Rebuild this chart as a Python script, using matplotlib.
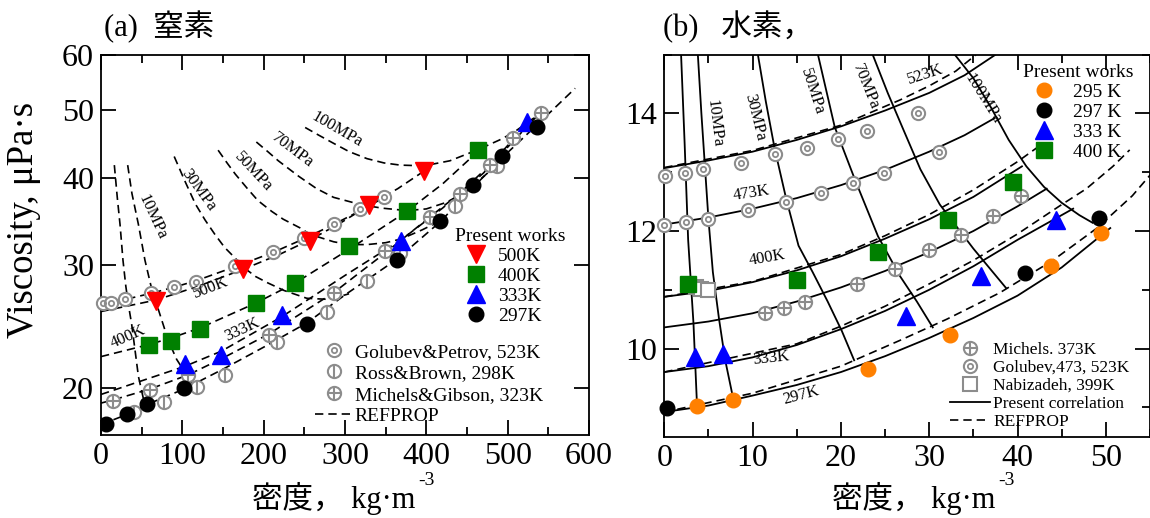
import matplotlib
matplotlib.use("Agg")
import matplotlib.pyplot as plt
from matplotlib.lines import Line2D
from matplotlib.ticker import FixedLocator, FixedFormatter, NullLocator, MultipleLocator

plt.rcParams['font.family'] = ['Liberation Serif', 'Noto Sans CJK JP']

GRAY = '#8c8c8c'
ORANGE = '#ff8000'

# ---------------- (a) nitrogen ----------------
# present works
n2_500_rho = [68, 175, 257, 329, 397]
n2_500_eta = [26.7, 29.6, 32.5, 36.6, 40.9]
n2_400_rho = [59, 86, 122, 191, 239, 305, 376, 464]
n2_400_eta = [23.1, 23.4, 24.3, 26.5, 28.3, 32.0, 35.8, 43.9]
n2_333_rho = [103, 148, 222, 369, 524]
n2_333_eta = [21.7, 22.3, 25.5, 32.5, 48.1]
n2_297_rho = [6, 32, 56, 102, 253, 364, 417, 457, 493, 536]
n2_297_eta = [17.8, 18.4, 19.0, 20.0, 24.7, 30.5, 34.7, 39.1, 42.9, 47.3]

# literature
golubev_rho = [2, 12, 30, 62, 90, 117, 165, 212, 249, 286, 319, 348]
golubev_eta = [26.5, 26.5, 26.8, 27.4, 27.9, 28.4, 29.9, 31.3, 32.8, 34.4, 36.1, 37.5]
ross_rho = [41, 78, 118, 153, 217, 278, 327, 368, 435, 487]
ross_eta = [18.5, 19.1, 20.1, 20.9, 23.3, 25.7, 28.5, 31.2, 36.5, 41.6]
michels_rho = [15, 60, 107, 206, 286, 349, 405, 441, 478, 507, 541]
michels_eta = [19.2, 19.9, 20.9, 23.8, 27.4, 31.4, 35.2, 37.9, 41.7, 45.6, 49.5]

# REFPROP isotherms
ref_n2_523_rho = [0, 30, 62, 90, 117, 165, 212, 249, 286, 319, 352]
ref_n2_523_eta = [26.4, 26.8, 27.35, 27.9, 28.5, 29.85, 31.3, 32.7, 34.3, 35.9, 37.7]
ref_n2_500_rho = [0, 68, 120, 175, 220, 257, 295, 329, 365, 400]
ref_n2_500_eta = [25.75, 26.75, 28.0, 29.6, 31.1, 32.6, 34.5, 36.5, 38.6, 41.1]
ref_n2_400_rho = [0, 59, 86, 122, 191, 239, 305, 376, 420, 466]
ref_n2_400_eta = [22.2, 23.1, 23.6, 24.4, 26.5, 28.3, 31.6, 35.8, 39.2, 43.9]
ref_n2_333_rho = [0, 50, 103, 148, 222, 300, 369, 420, 470, 530]
ref_n2_333_eta = [19.6, 20.5, 21.5, 22.6, 25.3, 29.0, 32.6, 36.2, 40.6, 48.2]
ref_n2_323_rho = [0, 15, 60, 107, 150, 206, 286, 349, 405, 441, 478, 507, 541]
ref_n2_323_eta = [19.05, 19.25, 19.95, 20.9, 22.1, 23.9, 27.4, 31.2, 35.2, 38.0, 41.7, 45.4, 49.6]
ref_n2_297_rho = [0, 32, 56, 102, 150, 200, 253, 300, 364, 417, 457, 493, 536, 583]
ref_n2_297_eta = [17.75, 18.35, 18.95, 19.95, 21.3, 22.9, 24.8, 27.2, 30.6, 34.6, 38.7, 42.7, 47.6, 53.7]
# REFPROP isobars
ref_n2_5mpa_rho = [16.4, 20, 23.4, 27, 30.5, 34, 37.7, 42, 46, 54]
ref_n2_5mpa_eta = [41.7, 37.5, 34.3, 30.5, 28.0, 26.2, 24.7, 22.6, 20.8, 18.9]
ref_n2_10mpa_rho = [32.8, 38, 46, 54, 61.5, 69.7, 82.8, 93, 103, 112]
ref_n2_10mpa_eta = [41.7, 38.0, 34.3, 30.5, 28.0, 26.1, 23.4, 22.0, 21.1, 20.25]
ref_n2_30mpa_rho = [90, 103, 116, 128, 140, 152, 165, 175, 190, 205, 225, 253, 280, 305]
ref_n2_30mpa_eta = [42.9, 39.6, 36.7, 34.8, 33.2, 31.8, 30.7, 29.8, 28.9, 28.3, 27.6, 26.9, 26.8, 27.3]
ref_n2_50mpa_rho = [144, 155, 165, 180, 193, 210, 224, 245, 257, 286, 305, 327, 350, 369, 395, 417]
ref_n2_50mpa_eta = [43.8, 42.0, 40.5, 38.6, 37.1, 35.8, 34.9, 33.9, 33.2, 32.4, 32.1, 32.1, 32.3, 32.7, 33.7, 34.7]
ref_n2_70mpa_rho = [191, 205, 218, 243, 265, 286, 320, 345, 376, 400, 425, 450, 475, 493]
ref_n2_70mpa_eta = [45.0, 43.6, 42.3, 40.2, 38.6, 37.5, 36.6, 36.2, 35.9, 36.1, 36.9, 38.3, 40.6, 42.9]
ref_n2_100mpa_rho = [251, 268, 286, 305, 327, 348, 368, 397, 429, 464, 490, 507, 530, 548]
ref_n2_100mpa_eta = [47.2, 46.0, 44.8, 43.6, 42.6, 42.0, 41.7, 41.6, 42.3, 43.9, 45.3, 46.4, 48.5, 50.0]

n2_yticks = [20, 30, 40, 50, 60]

# ---------------- (b) hydrogen ----------------
h2_295_rho = [3.7, 7.8, 23.1, 32.3, 43.8, 49.5]
h2_295_eta = [9.03, 9.12, 9.66, 10.23, 11.40, 11.97]
h2_297_rho = [0.3, 40.9, 49.2]
h2_297_eta = [8.99, 11.29, 12.22]
h2_333_rho = [3.5, 6.7, 27.4, 35.9, 44.4]
h2_333_eta = [9.85, 9.90, 10.55, 11.23, 12.19]
h2_400_rho = [2.7, 15.0, 24.2, 32.1, 39.5]
h2_400_eta = [11.09, 11.16, 11.64, 12.18, 12.84]

h2_michels_rho = [11.4, 13.6, 15.9, 21.8, 26.1, 30.0, 33.6, 37.2, 40.4]
h2_michels_eta = [10.60, 10.69, 10.79, 11.09, 11.36, 11.68, 11.94, 12.26, 12.59]
h2_golubev_rho = [0.1, 2.3, 4.4, 8.7, 12.5, 16.2, 19.7, 22.9, 28.7,
                  0.0, 2.5, 4.9, 9.5, 13.8, 17.7, 21.4, 24.9, 31.1]
h2_golubev_eta = [12.94, 12.99, 13.06, 13.15, 13.31, 13.41, 13.56, 13.70, 14.01,
                  12.11, 12.15, 12.20, 12.36, 12.50, 12.65, 12.82, 12.99, 13.35]
h2_nabi_rho = [3.6, 4.2, 4.9]
h2_nabi_eta = [11.04, 11.02, 11.00]

# present correlation isotherms
cor_523_rho = [0, 5, 10, 15, 20, 25, 30, 34, 37.5]
cor_523_eta = [13.07, 13.2, 13.35, 13.55, 13.78, 14.05, 14.35, 14.65, 15.0]
cor_473_rho = [0, 5, 10, 15, 20, 25, 30, 34, 37.4]
cor_473_eta = [12.11, 12.23, 12.38, 12.56, 12.78, 13.04, 13.35, 13.63, 13.92]
cor_400_rho = [0, 5, 10, 15, 20, 25, 30, 35, 40.5]
cor_400_eta = [10.88, 10.98, 11.13, 11.33, 11.57, 11.87, 12.2, 12.58, 13.1]
cor_373_rho = [0, 5, 10, 15, 20, 25, 30, 35, 40, 43.3]
cor_373_eta = [10.36, 10.46, 10.6, 10.8, 11.04, 11.32, 11.64, 12.0, 12.42, 12.72]
cor_333_rho = [0, 5, 10, 15, 20, 25, 30, 35, 40, 46.3]
cor_333_eta = [9.6, 9.7, 9.85, 10.06, 10.33, 10.64, 11.0, 11.4, 11.85, 12.38]
cor_297_rho = [0, 5, 10, 15, 20, 25, 30, 35, 40, 45, 50.5]
cor_297_eta = [8.92, 9.03, 9.2, 9.38, 9.6, 9.87, 10.18, 10.52, 10.9, 11.38, 12.05]
# present correlation isobars
cor_5mpa_rho = [1.9, 2.3, 2.7, 3.3, 3.7]
cor_5mpa_eta = [15.0, 13.5, 11.85, 10.44, 9.05]
cor_10mpa_rho = [3.8, 4.2, 4.6, 5.0, 5.5, 6.2, 6.9, 7.8]
cor_10mpa_eta = [15.0, 14.0, 13.1, 12.2, 11.3, 10.5, 9.8, 9.15]
cor_30mpa_rho = [10.6, 11.5, 12.5, 13.8, 15.2, 16.8, 18.5, 20.1, 21.5]
cor_30mpa_eta = [15.0, 14.2, 13.4, 12.55, 11.75, 11.3, 10.8, 10.3, 9.8]
cor_50mpa_rho = [17.4, 19.3, 21.6, 24.2, 26.7, 28.6, 30.4]
cor_50mpa_eta = [15.0, 13.77, 12.87, 11.91, 11.23, 10.8, 10.36]
cor_70mpa_rho = [23.6, 25.3, 27.0, 29.0, 31.2, 35.0, 38.7]
cor_70mpa_eta = [15.0, 14.35, 13.75, 13.05, 12.45, 11.7, 11.03]
cor_100mpa_rho = [32.9, 35, 37, 39, 41, 43, 45, 47, 48.5]
cor_100mpa_eta = [15.0, 14.6, 14.1, 13.55, 13.1, 12.75, 12.48, 12.27, 12.14]
# REFPROP (hydrogen)
ref_h2_523_rho = [0, 10, 20, 26.7, 30, 33, 35.3]
ref_h2_523_eta = [13.08, 13.37, 13.80, 14.23, 14.47, 14.72, 15.0]
ref_h2_400_rho = [0, 10, 20, 25, 30, 35, 40, 42.5]
ref_h2_400_eta = [10.88, 11.14, 11.6, 11.92, 12.28, 12.7, 13.18, 13.45]
ref_h2_333_rho = [0, 15, 20, 25, 30, 35, 40, 44.7, 47.8, 50.8, 52.7]
ref_h2_333_eta = [9.6, 10.08, 10.38, 10.72, 11.1, 11.5, 11.95, 12.42, 12.72, 13.1, 13.38]
ref_h2_297_rho = [0, 10, 20, 26.7, 32, 38, 44, 49, 53, 55]
ref_h2_297_eta = [8.92, 9.24, 9.7, 10.14, 10.5, 10.95, 11.5, 12.05, 12.6, 12.95]

DASH = dict(color='black', lw=1.2, ls=(0, (5, 3)))
SOLID = dict(color='black', lw=1.3)


def ring(ax, x, y, ms=9.5):
    a = ax.plot(x, y, 'o', ms=ms, mfc='white', mec=GRAY, mew=1.5, ls='none', clip_on=False, zorder=4)[0]
    b = ax.plot(x, y, 'o', ms=ms * 0.4, mfc='none', mec=GRAY, mew=1.3, ls='none', clip_on=False, zorder=5)[0]
    return (a, b)


def crossed(ax, x, y, inner, ms=9.5):
    a = ax.plot(x, y, 'o', ms=ms, mfc='white', mec=GRAY, mew=1.5, ls='none', clip_on=False, zorder=4)[0]
    b = ax.plot(x, y, inner, ms=ms, mec=GRAY, mew=1.5, ls='none', clip_on=False, zorder=5)[0]
    return (a, b)


def style_axes(ax):
    for s in ax.spines.values():
        s.set_linewidth(1.3)
    ax.tick_params(which='both', direction='in', top=True, right=True, width=1.3, labelsize=23)
    ax.tick_params(which='major', length=11, pad=5)
    ax.tick_params(which='minor', length=6)


fig = plt.figure(figsize=(11.5, 5.18), dpi=100)
W, H = 1150, 518

# ---------- panel (a) ----------
ax1 = fig.add_axes([101 / W, 1 - 435 / H, 488 / W, 380.4 / H])
ax1.set_yscale('log')
ax1.set_xlim(0, 600)
ax1.set_ylim(17.15, 60)
ax1.xaxis.set_major_locator(MultipleLocator(100))
ax1.xaxis.set_minor_locator(MultipleLocator(50))
ax1.yaxis.set_major_locator(FixedLocator(n2_yticks))
ax1.yaxis.set_major_formatter(FixedFormatter([str(v) for v in n2_yticks]))
ax1.yaxis.set_minor_locator(NullLocator())
style_axes(ax1)

for rx, ry in [(ref_n2_523_rho, ref_n2_523_eta), (ref_n2_500_rho, ref_n2_500_eta),
               (ref_n2_400_rho, ref_n2_400_eta), (ref_n2_333_rho, ref_n2_333_eta),
               (ref_n2_323_rho, ref_n2_323_eta), (ref_n2_297_rho, ref_n2_297_eta),
               (ref_n2_5mpa_rho, ref_n2_5mpa_eta), (ref_n2_10mpa_rho, ref_n2_10mpa_eta),
               (ref_n2_30mpa_rho, ref_n2_30mpa_eta), (ref_n2_50mpa_rho, ref_n2_50mpa_eta),
               (ref_n2_70mpa_rho, ref_n2_70mpa_eta), (ref_n2_100mpa_rho, ref_n2_100mpa_eta)]:
    ax1.plot(rx, ry, zorder=2, **DASH)

g1 = ring(ax1, golubev_rho, golubev_eta)
g2 = crossed(ax1, ross_rho, ross_eta, '|')
g3 = crossed(ax1, michels_rho, michels_eta, '+')

p500 = ax1.plot(n2_500_rho, n2_500_eta, 'v', color='red', ms=12.5, ls='none', zorder=6)[0]
p400 = ax1.plot(n2_400_rho, n2_400_eta, 's', color='green', ms=11, ls='none', zorder=6)[0]
p333 = ax1.plot(n2_333_rho, n2_333_eta, '^', color='blue', ms=12.5, ls='none', zorder=6)[0]
p297 = ax1.plot(n2_297_rho, n2_297_eta, 'o', color='black', ms=10.5, ls='none', zorder=6)[0]

lab = dict(fontsize=12, ha='center', va='center', rotation_mode='anchor', zorder=7)
ax1.text(62.7, 35.2, '10MPa', rotation=-65, **lab)
ax1.text(119.3, 38.4, '30MPa', rotation=-54, **lab)
ax1.text(186.9, 40.8, '50MPa', rotation=-47, **lab)
ax1.text(234.8, 43.8, '70MPa', rotation=-37, **lab)
ax1.text(290.2, 46.8, '100MPa', rotation=-30, **lab)
ax1.text(135.3, 27.9, '500K', rotation=21, **lab)
ax1.text(33.2, 23.7, '400K', rotation=24, **lab)
ax1.text(173.4, 24.3, '333K', rotation=25, **lab)

leg1 = ax1.legend([p500, p400, p333, p297], ['500K', '400K', '333K', '297K'],
                  title='Present works', alignment='left', loc='upper left',
                  bbox_to_anchor=(455 / W, 1 - 228 / H), bbox_transform=fig.transFigure,
                  frameon=False, fontsize=14, title_fontsize=14, borderpad=0, borderaxespad=0,
                  handlelength=2.2, handletextpad=0.0, labelspacing=0.12)
ax1.add_artist(leg1)
ref_line = Line2D([], [], **DASH)
ax1.legend([g1, g2, g3, ref_line],
           ['Golubev&Petrov, 523K', 'Ross&Brown, 298K', 'Michels&Gibson, 323K', 'REFPROP'],
           loc='upper left', bbox_to_anchor=(315 / W, 1 - 343 / H), bbox_transform=fig.transFigure,
           frameon=False, fontsize=14, borderpad=0, borderaxespad=0,
           handlelength=1.95, handletextpad=0.1, labelspacing=0.2)

# ---------- panel (b) ----------
ax2 = fig.add_axes([664.3 / W, 1 - 436.7 / H, 485.7 / W, 382 / H])
ax2.set_xlim(0, 55)
ax2.set_ylim(8.5, 15)
ax2.xaxis.set_major_locator(MultipleLocator(10))
ax2.xaxis.set_minor_locator(MultipleLocator(5))
ax2.yaxis.set_major_locator(MultipleLocator(2))
ax2.yaxis.set_minor_locator(MultipleLocator(1))
style_axes(ax2)

for cx, cy in [(cor_523_rho, cor_523_eta), (cor_473_rho, cor_473_eta), (cor_400_rho, cor_400_eta),
               (cor_373_rho, cor_373_eta), (cor_333_rho, cor_333_eta), (cor_297_rho, cor_297_eta),
               (cor_5mpa_rho, cor_5mpa_eta), (cor_10mpa_rho, cor_10mpa_eta),
               (cor_30mpa_rho, cor_30mpa_eta), (cor_50mpa_rho, cor_50mpa_eta),
               (cor_70mpa_rho, cor_70mpa_eta), (cor_100mpa_rho, cor_100mpa_eta)]:
    ax2.plot(cx, cy, zorder=2, **SOLID)
for rx, ry in [(ref_h2_523_rho, ref_h2_523_eta), (ref_h2_400_rho, ref_h2_400_eta),
               (ref_h2_333_rho, ref_h2_333_eta), (ref_h2_297_rho, ref_h2_297_eta)]:
    ax2.plot(rx, ry, zorder=2, **DASH)

m1 = crossed(ax2, h2_michels_rho, h2_michels_eta, '+')
m2 = ring(ax2, h2_golubev_rho, h2_golubev_eta)
m3 = ax2.plot(h2_nabi_rho, h2_nabi_eta, 's', ms=9.5, mfc='white', mec=GRAY, mew=1.5,
              ls='none', zorder=4)[0]

q295 = ax2.plot(h2_295_rho, h2_295_eta, 'o', color=ORANGE, ms=10.5, ls='none', zorder=6)[0]
q297 = ax2.plot(h2_297_rho, h2_297_eta, 'o', color='black', ms=10.5, ls='none', zorder=6, clip_on=False)[0]
q333 = ax2.plot(h2_333_rho, h2_333_eta, '^', color='blue', ms=12.5, ls='none', zorder=6)[0]
q400 = ax2.plot(h2_400_rho, h2_400_eta, 's', color='green', ms=11, ls='none', zorder=6)[0]

ax2.text(5.66, 13.83, '10MPa', rotation=-83, **lab)
ax2.text(10.26, 13.94, '30MPa', rotation=-76, **lab)
ax2.text(16.7, 14.37, '50MPa', rotation=-72, **lab)
ax2.text(22.8, 14.45, '70MPa', rotation=-68, **lab)
ax2.text(36.1, 14.25, '100MPa', rotation=-58, **lab)
ax2.text(29.5, 14.67, '523K', rotation=18, **lab)
ax2.text(9.9, 12.64, '473K', rotation=9, **lab)
ax2.text(11.6, 11.54, '400K', rotation=10, **lab)
ax2.text(12.1, 9.83, '333K', rotation=6, **lab)
ax2.text(15.5, 9.2, '297K', rotation=15, **lab)

leg3 = ax2.legend([q295, q297, q333, q400], ['295 K', '297 K', '333 K', '400 K'],
                  title='Present works', alignment='left', loc='upper left',
                  bbox_to_anchor=(1023 / W, 1 - 64 / H), bbox_transform=fig.transFigure,
                  frameon=False, fontsize=14, title_fontsize=14, borderpad=0, borderaxespad=0,
                  handlelength=2.2, handletextpad=0.35, labelspacing=0.12)
ax2.add_artist(leg3)
cor_line = Line2D([], [], **SOLID)
ax2.legend([m1, m2, m3, cor_line, ref_line],
           ['Michels. 373K', 'Golubev,473, 523K', 'Nabizadeh, 399K', 'Present correlation', 'REFPROP'],
           loc='upper left', bbox_to_anchor=(950 / W, 1 - 342 / H), bbox_transform=fig.transFigure,
           frameon=False, fontsize=12.5, borderpad=0, borderaxespad=0,
           handlelength=2.3, handletextpad=0.2, labelspacing=0.1)

# ---------- titles and axis labels ----------
fig.text(104 / W, 1 - 27 / H, '(a)  窒素', fontsize=22, va='center')
fig.text(663 / W, 1 - 27 / H, '(b)   水素，', fontsize=22, va='center')
fig.text(24 / W, 1 - 220 / H, 'Viscosity, μPa·s', rotation=90, fontsize=26.5, ha='center', va='center')
for x0 in (252, 832):
    # x label with the raised "-3" placed just after it
    xl = fig.text(x0 / W, 1 - 498 / H, '密度， kg·m', fontsize=22, ha='left', va='center')
    fig.add_artist(plt.Annotation('-3', xy=(1, 1), xycoords=xl, xytext=(2, 1),
                                  textcoords='offset points', fontsize=14, ha='left', va='center'))

fig.savefig('out.png', dpi=100)
